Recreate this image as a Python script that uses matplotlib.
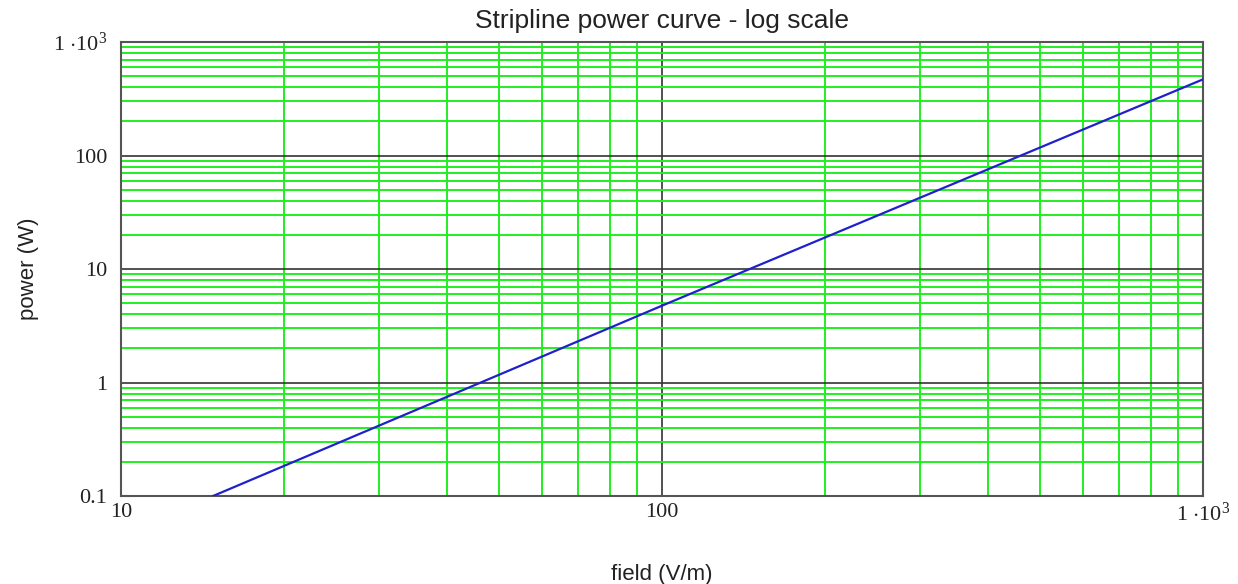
import numpy as np
import matplotlib.pyplot as plt
from matplotlib.ticker import FixedLocator, LogLocator, NullFormatter

# valores (reta em escala log-log)
campo = [14.8, 100, 1000]      # V/m
potencia = [0.1, 4.75, 469]    # W

xticks = [10, 100, 1000]
xlabels = ["10", "100", r"1 $\cdot$10$^{3}$"]
yticks = [0.1, 1, 10, 100, 1000]
ylabels = ["0.1", "1", "10", "100", r"1 $\cdot$10$^{3}$"]

plt.rcParams['mathtext.fontset'] = 'custom'
plt.rcParams['mathtext.rm'] = 'Liberation Serif'
plt.rcParams['mathtext.it'] = 'Liberation Serif'

fig = plt.figure(figsize=(12.38, 5.84), dpi=100)
ax = fig.add_axes([0.0977, 0.1507, 0.8740, 0.7773])

ax.set_xscale('log')
ax.set_yscale('log')
ax.set_xlim(10, 1000)
ax.set_ylim(0.1, 1000)

# grade
ax.xaxis.set_minor_locator(LogLocator(base=10, subs=np.arange(2, 10)))
ax.yaxis.set_minor_locator(LogLocator(base=10, subs=np.arange(2, 10)))
ax.xaxis.set_minor_formatter(NullFormatter())
ax.yaxis.set_minor_formatter(NullFormatter())
ax.grid(True, which='minor', color='#22ee22', linewidth=1.4)
ax.grid(True, which='major', color='#333333', linewidth=1.2)
ax.set_axisbelow(True)

ax.plot(campo, potencia, color='#2020cc', linewidth=1.6, zorder=3)

ax.xaxis.set_major_locator(FixedLocator(xticks))
ax.yaxis.set_major_locator(FixedLocator(yticks))
ax.set_xticklabels(xlabels, fontfamily='Liberation Serif', fontsize=16, color='#222222')
ax.set_yticklabels(ylabels, fontfamily='Liberation Serif', fontsize=16, color='#222222')
ax.tick_params(which='both', length=0)
ax.tick_params(axis='x', pad=5)
ax.tick_params(axis='y', pad=10)

for s in ax.spines.values():
    s.set_color('#555555')
    s.set_linewidth(1.5)

ax.set_title("Stripline power curve - log scale", fontfamily='Liberation Sans',
             fontsize=19, color='#222222', pad=10)
ax.set_xlabel("field (V/m)", fontfamily='Liberation Sans', fontsize=16,
              color='#222222')
ax.xaxis.set_label_coords(0.5, -0.15)
ax.set_ylabel("power (W)", fontfamily='Liberation Sans', fontsize=16,
              color='#222222')
ax.yaxis.set_label_coords(-0.076, 0.5)

fig.savefig('out.png', dpi=100)
